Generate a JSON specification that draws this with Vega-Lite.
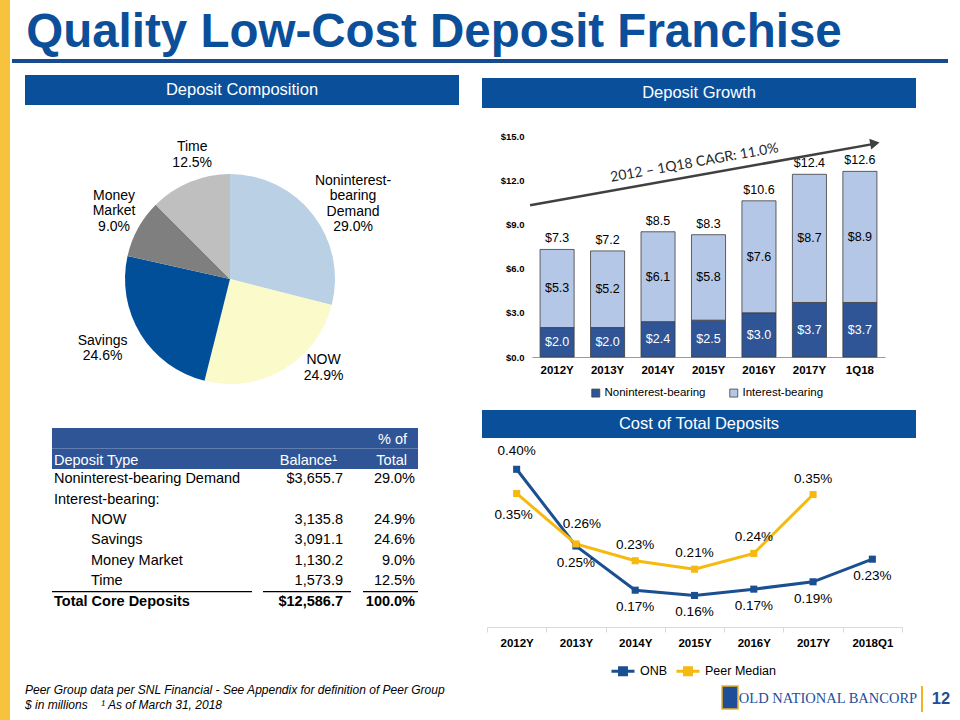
{
  "$schema": "https://vega.github.io/schema/vega-lite/v6.json",
  "padding": 0,
  "background": "white",
  "config": {"font": "Liberation Sans", "view": {"stroke": null}, "concat": {"spacing": 0}},
  "datasets": {
    "pie": [
      {"cat": "Noninterest-bearing Demand", "idx": 1, "share": 29.0, "label": "Noninterest-\nbearing\nDemand\n29.0%"},
      {"cat": "NOW", "idx": 2, "share": 24.9, "label": "NOW\n24.9%"},
      {"cat": "Savings", "idx": 3, "share": 24.6, "label": "Savings\n24.6%"},
      {"cat": "Money Market", "idx": 4, "share": 9.0, "label": "Money\nMarket\n9.0%"},
      {"cat": "Time", "idx": 5, "share": 12.5, "label": "Time\n12.5%"}
    ],
    "tableHeader": [
      {"row": "h1", "col": "Pct", "label": "% of"},
      {"row": "h2", "col": "Type", "label": "Deposit Type"},
      {"row": "h2", "col": "Balance", "label": "Balance¹"},
      {"row": "h2", "col": "Pct", "label": "Total"}
    ],
    "tableRows": [
      {"row": "r1", "type": "Noninterest-bearing Demand", "level": "top", "balance": 3655.7, "share": 0.290},
      {"row": "r2", "type": "Interest-bearing:", "level": "top", "balance": null, "share": null},
      {"row": "r3", "type": "NOW", "level": "sub", "balance": 3135.8, "share": 0.249},
      {"row": "r4", "type": "Savings", "level": "sub", "balance": 3091.1, "share": 0.246},
      {"row": "r5", "type": "Money Market", "level": "sub", "balance": 1130.2, "share": 0.090},
      {"row": "r6", "type": "Time", "level": "sub", "balance": 1573.9, "share": 0.125},
      {"row": "r7", "type": "Total Core Deposits", "level": "total", "balance": 12586.7, "share": 1.0}
    ],
    "growth": [
      {"year": "2012Y", "type": "Noninterest-bearing", "value": 2.0},
      {"year": "2012Y", "type": "Interest-bearing", "value": 5.3},
      {"year": "2013Y", "type": "Noninterest-bearing", "value": 2.0},
      {"year": "2013Y", "type": "Interest-bearing", "value": 5.2},
      {"year": "2014Y", "type": "Noninterest-bearing", "value": 2.4},
      {"year": "2014Y", "type": "Interest-bearing", "value": 6.1},
      {"year": "2015Y", "type": "Noninterest-bearing", "value": 2.5},
      {"year": "2015Y", "type": "Interest-bearing", "value": 5.8},
      {"year": "2016Y", "type": "Noninterest-bearing", "value": 3.0},
      {"year": "2016Y", "type": "Interest-bearing", "value": 7.6},
      {"year": "2017Y", "type": "Noninterest-bearing", "value": 3.7},
      {"year": "2017Y", "type": "Interest-bearing", "value": 8.7},
      {"year": "1Q18", "type": "Noninterest-bearing", "value": 3.7},
      {"year": "1Q18", "type": "Interest-bearing", "value": 8.9}
    ],
    "cost": [
      {"period": "2012Y", "series": "ONB", "rate": 0.00400},
      {"period": "2013Y", "series": "ONB", "rate": 0.00254},
      {"period": "2014Y", "series": "ONB", "rate": 0.00170},
      {"period": "2015Y", "series": "ONB", "rate": 0.00160},
      {"period": "2016Y", "series": "ONB", "rate": 0.00172},
      {"period": "2017Y", "series": "ONB", "rate": 0.00186},
      {"period": "2018Q1", "series": "ONB", "rate": 0.00229},
      {"period": "2012Y", "series": "Peer Median", "rate": 0.00354},
      {"period": "2013Y", "series": "Peer Median", "rate": 0.00258},
      {"period": "2014Y", "series": "Peer Median", "rate": 0.00226},
      {"period": "2015Y", "series": "Peer Median", "rate": 0.00210},
      {"period": "2016Y", "series": "Peer Median", "rate": 0.00240},
      {"period": "2017Y", "series": "Peer Median", "rate": 0.00352}
    ]
  },
  "bounds": "flush",
  "spacing": 2,
  "resolve": {"scale": {"color": "independent"}, "legend": {"color": "independent"}},
  "hconcat": [
    {"width": 10, "height": 720, "view": {"fill": "#F7C33C", "stroke": null}, "data": {"values": [{}]}, "mark": {"type": "text", "text": ""}},
    {
      "bounds": "flush",
      "spacing": 0,
      "resolve": {"scale": {"color": "independent"}, "legend": {"color": "independent"}},
      "vconcat": [
        {"width": 844, "height": 59, "data": {"values": [{"t": "Quality Low-Cost Deposit Franchise"}]},
         "mark": {"type": "text", "fontSize": 47.5, "fontWeight": "bold", "color": "#0B4F9A", "baseline": "alphabetic", "align": "center", "dy": 17.5},
         "encoding": {"text": {"field": "t", "type": "nominal"}}},
        {"width": 936, "height": 4, "view": {"fill": "#1A4A8E", "stroke": null}, "data": {"values": [{}]}, "mark": {"type": "text", "text": ""}},
        {"width": 1, "height": 12, "data": {"values": [{}]}, "mark": {"type": "text", "text": ""}},
        {
          "spacing": 4,
          "resolve": {"scale": {"color": "independent"}, "legend": {"color": "independent"}},
          "hconcat": [
            {"width": 9, "height": 1, "data": {"values": [{}]}, "mark": {"type": "text", "text": ""}},
            {
              "bounds": "flush",
              "spacing": 0,
              "resolve": {"scale": {"color": "independent"}, "legend": {"color": "independent"}},
              "vconcat": [
                {"width": 434, "height": 30, "view": {"fill": "#0A4F9A", "stroke": null}, "data": {"values": [{"h": "Deposit Composition"}]},
                 "mark": {"type": "text", "fontSize": 16.5, "color": "white", "baseline": "middle"},
                 "encoding": {"text": {"field": "h", "type": "nominal"}}},
                {"width": 1, "height": 25, "data": {"values": [{}]}, "mark": {"type": "text", "text": ""}},
                {
                  "width": 410, "height": 298,
                  "data": {"name": "pie"},
                  "encoding": {
                    "theta": {"field": "share", "type": "quantitative", "stack": true},
                    "order": {"field": "idx", "type": "quantitative"},
                    "detail": {"field": "cat", "type": "nominal"}
                  },
                  "layer": [
                    {"mark": {"type": "arc", "radius": 105},
                     "encoding": {"color": {"field": "cat", "type": "nominal", "legend": null,
                       "scale": {"domain": ["Noninterest-bearing Demand", "NOW", "Savings", "Money Market", "Time"], "range": ["#B9D0E5", "#FAFACA", "#004F98", "#7F7F7F", "#BFBFBF"]}}}},
                    {"mark": {"type": "text", "radius": 138, "fontSize": 14, "lineBreak": "\n", "lineHeight": 15.5, "baseline": "middle", "align": "center", "color": "black", "dx": 14, "dy": -13.75},
                     "encoding": {"text": {"condition": {"test": "datum.cat === 'Noninterest-bearing Demand'", "field": "label", "type": "nominal"}, "value": ""}}},
                    {"mark": {"type": "text", "radius": 138, "fontSize": 14, "lineBreak": "\n", "lineHeight": 15.5, "baseline": "middle", "align": "center", "color": "black", "dx": 23, "dy": -37.25},
                     "encoding": {"text": {"condition": {"test": "datum.cat === 'NOW'", "field": "label", "type": "nominal"}, "value": ""}}},
                    {"mark": {"type": "text", "radius": 138, "fontSize": 14, "lineBreak": "\n", "lineHeight": 15.5, "baseline": "middle", "align": "center", "color": "black", "dx": -10, "dy": -10.75},
                     "encoding": {"text": {"condition": {"test": "datum.cat === 'Savings'", "field": "label", "type": "nominal"}, "value": ""}}},
                    {"mark": {"type": "text", "radius": 138, "fontSize": 14, "lineBreak": "\n", "lineHeight": 15.5, "baseline": "middle", "align": "center", "color": "black", "dx": 5, "dy": -17},
                     "encoding": {"text": {"condition": {"test": "datum.cat === 'Money Market'", "field": "label", "type": "nominal"}, "value": ""}}},
                    {"mark": {"type": "text", "radius": 138, "fontSize": 14, "lineBreak": "\n", "lineHeight": 15.5, "baseline": "middle", "align": "center", "color": "black", "dx": 15, "dy": -4.25},
                     "encoding": {"text": {"condition": {"test": "datum.cat === 'Time'", "field": "label", "type": "nominal"}, "value": ""}}}
                  ]
                },
                {
                  "width": 393, "height": 184,
                  "layer": [
                    {"data": {"values": [{"row": "h1"}, {"row": "h2"}]},
                     "mark": {"type": "rect", "color": "#2F5597"},
                     "encoding": {
                       "x": {"datum": "Type", "type": "nominal", "axis": null, "scale": {"type": "point", "domain": ["Type", "Balance", "Pct"], "range": [27, 393], "padding": 0}},
                       "x2": {"datum": "Pct"},
                       "y": {"field": "row", "type": "nominal", "axis": null, "scale": {"type": "band", "domain": ["h1", "h2", "r1", "r2", "r3", "r4", "r5", "r6", "r7"], "paddingInner": 0, "paddingOuter": 0}}
                     }},
                    {"data": {"name": "tableHeader"}, "transform": [{"filter": "datum.col === 'Type'"}],
                     "mark": {"type": "text", "align": "left", "dx": 2, "dy": 2, "baseline": "middle", "fontSize": 14.5, "color": "white"},
                     "encoding": {"x": {"field": "col", "type": "nominal", "axis": null}, "y": {"field": "row", "type": "nominal", "axis": null}, "text": {"field": "label", "type": "nominal"}}},
                    {"data": {"name": "tableHeader"}, "transform": [{"filter": "datum.col === 'Balance'"}],
                     "mark": {"type": "text", "align": "right", "dx": 102, "dy": 2, "baseline": "middle", "fontSize": 14.5, "color": "white"},
                     "encoding": {"x": {"field": "col", "type": "nominal", "axis": null}, "y": {"field": "row", "type": "nominal", "axis": null}, "text": {"field": "label", "type": "nominal"}}},
                    {"data": {"name": "tableHeader"}, "transform": [{"filter": "datum.col === 'Pct'"}],
                     "mark": {"type": "text", "align": "right", "dx": -11, "dy": 2, "baseline": "middle", "fontSize": 14.5, "color": "white"},
                     "encoding": {"x": {"field": "col", "type": "nominal", "axis": null}, "y": {"field": "row", "type": "nominal", "axis": null}, "text": {"field": "label", "type": "nominal"}}},
                    {"data": {"name": "tableRows"}, "transform": [{"filter": "datum.level === 'top'"}],
                     "mark": {"type": "text", "align": "left", "dx": 2, "baseline": "middle", "fontSize": 14.5, "color": "black"},
                     "encoding": {"x": {"datum": "Type", "type": "nominal", "axis": null}, "y": {"field": "row", "type": "nominal", "axis": null}, "text": {"field": "type", "type": "nominal"}}},
                    {"data": {"name": "tableRows"}, "transform": [{"filter": "datum.level === 'sub'"}],
                     "mark": {"type": "text", "align": "left", "dx": 39, "baseline": "middle", "fontSize": 14.5, "color": "black"},
                     "encoding": {"x": {"datum": "Type", "type": "nominal", "axis": null}, "y": {"field": "row", "type": "nominal", "axis": null}, "text": {"field": "type", "type": "nominal"}}},
                    {"data": {"name": "tableRows"}, "transform": [{"filter": "datum.level === 'total'"}],
                     "mark": {"type": "text", "align": "left", "dx": 2, "baseline": "middle", "fontSize": 14.5, "fontWeight": "bold", "color": "black"},
                     "encoding": {"x": {"datum": "Type", "type": "nominal", "axis": null}, "y": {"field": "row", "type": "nominal", "axis": null}, "text": {"field": "type", "type": "nominal"}}},
                    {"data": {"name": "tableRows"}, "transform": [{"filter": "datum.row === 'r1'"}],
                     "mark": {"type": "text", "align": "right", "dx": 108, "baseline": "middle", "fontSize": 14.5, "color": "black"},
                     "encoding": {"x": {"datum": "Balance", "type": "nominal", "axis": null}, "y": {"field": "row", "type": "nominal", "axis": null}, "text": {"field": "balance", "type": "quantitative", "format": "$,.1f"}}},
                    {"data": {"name": "tableRows"}, "transform": [{"filter": "datum.level === 'sub'"}],
                     "mark": {"type": "text", "align": "right", "dx": 108, "baseline": "middle", "fontSize": 14.5, "color": "black"},
                     "encoding": {"x": {"datum": "Balance", "type": "nominal", "axis": null}, "y": {"field": "row", "type": "nominal", "axis": null}, "text": {"field": "balance", "type": "quantitative", "format": ",.1f"}}},
                    {"data": {"name": "tableRows"}, "transform": [{"filter": "datum.level === 'total'"}],
                     "mark": {"type": "text", "align": "right", "dx": 108, "baseline": "middle", "fontSize": 14.5, "fontWeight": "bold", "color": "black"},
                     "encoding": {"x": {"datum": "Balance", "type": "nominal", "axis": null}, "y": {"field": "row", "type": "nominal", "axis": null}, "text": {"field": "balance", "type": "quantitative", "format": "$,.1f"}}},
                    {"data": {"name": "tableRows"}, "transform": [{"filter": "isValid(datum.share) && datum.level !== 'total'"}],
                     "mark": {"type": "text", "align": "right", "dx": -3, "baseline": "middle", "fontSize": 14.5, "color": "black"},
                     "encoding": {"x": {"datum": "Pct", "type": "nominal", "axis": null}, "y": {"field": "row", "type": "nominal", "axis": null}, "text": {"field": "share", "type": "quantitative", "format": ".1%"}}},
                    {"data": {"name": "tableRows"}, "transform": [{"filter": "datum.level === 'total'"}],
                     "mark": {"type": "text", "align": "right", "dx": -3, "baseline": "middle", "fontSize": 14.5, "fontWeight": "bold", "color": "black"},
                     "encoding": {"x": {"datum": "Pct", "type": "nominal", "axis": null}, "y": {"field": "row", "type": "nominal", "axis": null}, "text": {"field": "share", "type": "quantitative", "format": ".1%"}}},
                    {"data": {"name": "tableRows"}, "transform": [{"filter": "datum.level === 'total'"}],
                     "mark": {"type": "rule", "color": "black", "strokeWidth": 1.2, "x2Offset": 17},
                     "encoding": {"x": {"datum": "Type", "type": "nominal", "axis": null}, "x2": {"datum": "Balance"}, "y": {"field": "row", "type": "nominal", "axis": null, "bandPosition": 0}}},
                    {"data": {"name": "tableRows"}, "transform": [{"filter": "datum.level === 'total'"}],
                     "mark": {"type": "rule", "color": "black", "strokeWidth": 1.2, "xOffset": 28, "x2Offset": 116},
                     "encoding": {"x": {"datum": "Balance", "type": "nominal", "axis": null}, "x2": {"datum": "Balance"}, "y": {"field": "row", "type": "nominal", "axis": null, "bandPosition": 0}}},
                    {"data": {"name": "tableRows"}, "transform": [{"filter": "datum.level === 'total'"}],
                     "mark": {"type": "rule", "color": "black", "strokeWidth": 1.2, "xOffset": -55},
                     "encoding": {"x": {"datum": "Pct", "type": "nominal", "axis": null}, "x2": {"datum": "Pct"}, "y": {"field": "row", "type": "nominal", "axis": null, "bandPosition": 0}}}
                  ]
                },
                {"width": 420, "height": 72, "data": {"values": [{}]}, "mark": {"type": "text", "text": ""},
                 "title": {"text": "Peer Group data per SNL Financial - See Appendix for definition of Peer Group",
                   "subtitle": "$ in millions\u00a0\u00a0\u00a0\u00a0¹ As of March 31, 2018",
                   "orient": "bottom", "anchor": "start", "offset": 1,
                   "font": "Liberation Sans", "fontSize": 12, "fontWeight": "normal", "fontStyle": "italic", "color": "black",
                   "subtitleFont": "Liberation Sans", "subtitleFontSize": 12, "subtitleFontStyle": "italic", "subtitleColor": "black", "subtitlePadding": 3}}
              ]
            },
            {"width": 15, "height": 1, "data": {"values": [{}]}, "mark": {"type": "text", "text": ""}},
            {
              "bounds": "flush",
              "spacing": 0,
              "resolve": {"scale": {"color": "independent"}, "legend": {"color": "independent"}},
              "vconcat": [
                {"width": 1, "height": 3, "data": {"values": [{}]}, "mark": {"type": "text", "text": ""}},
                {"width": 434, "height": 30, "view": {"fill": "#0A4F9A", "stroke": null}, "data": {"values": [{"h": "Deposit Growth"}]},
                 "mark": {"type": "text", "fontSize": 16.5, "color": "white", "baseline": "middle"},
                 "encoding": {"text": {"field": "h", "type": "nominal"}}},
                {"width": 1, "height": 28, "data": {"values": [{}]}, "mark": {"type": "text", "text": ""}},
                {
                  "width": 403, "height": 221,
                  "data": {"name": "growth"},
                  "layer": [
                    {"mark": {"type": "bar", "stroke": "#3C3C3C", "strokeWidth": 0.8},
                     "encoding": {
                       "x": {"field": "year", "type": "nominal", "sort": null,
                         "scale": {"type": "band", "domain": ["2012Y", "2013Y", "2014Y", "2015Y", "2016Y", "2017Y", "1Q18"], "range": [50, 403], "paddingInner": 0.325, "paddingOuter": 0.16},
                         "axis": {"title": null, "labelAngle": 0, "labelFontSize": 11.5, "labelFontWeight": "bold", "labelColor": "black", "domainColor": "#9A9A9A", "ticks": false, "labelPadding": 7, "grid": false}},
                       "y": {"field": "value", "type": "quantitative", "stack": "zero",
                         "scale": {"domain": [0, 15], "nice": false},
                         "axis": {"title": null, "values": [0, 3, 6, 9, 12, 15], "format": "$.1f", "labelFontSize": 9.5, "labelFontWeight": "bold", "labelColor": "black", "domain": false, "ticks": false, "grid": false, "offset": -50, "labelPadding": 8}},
                       "color": {"field": "type", "type": "nominal",
                         "scale": {"domain": ["Noninterest-bearing", "Interest-bearing"], "range": ["#2F5597", "#B4C7E7"]},
                         "legend": {"orient": "none", "legendX": 108, "legendY": 251, "direction": "horizontal", "title": null, "symbolType": "square", "symbolSize": 64, "symbolStrokeColor": "#404040", "symbolStrokeWidth": 0.8, "labelFontSize": 11.5, "labelColor": "black", "columnPadding": 22, "labelOffset": 3}},
                       "order": {"field": "type", "sort": "descending"}
                     }},
                    {"transform": [
                       {"stack": "value", "groupby": ["year"], "sort": [{"field": "type", "order": "descending"}], "as": ["v0", "v1"]},
                       {"fold": ["v0", "v1"], "as": ["edgeName", "edge"]},
                       {"aggregate": [{"op": "mean", "field": "edge", "as": "mid"}], "groupby": ["year", "type", "value"]}
                     ],
                     "mark": {"type": "text", "fontSize": 12.5, "baseline": "middle"},
                     "encoding": {
                       "x": {"field": "year", "type": "nominal", "sort": null},
                       "y": {"field": "mid", "type": "quantitative"},
                       "text": {"field": "value", "type": "quantitative", "format": "$.1f"},
                       "color": {"condition": {"test": "datum.type === 'Noninterest-bearing'", "value": "white"}, "value": "black"}
                     }},
                    {"transform": [{"aggregate": [{"op": "sum", "field": "value", "as": "total"}], "groupby": ["year"]}],
                     "mark": {"type": "text", "fontSize": 12.5, "baseline": "middle", "dy": -11, "color": "black"},
                     "encoding": {
                       "x": {"field": "year", "type": "nominal", "sort": null},
                       "y": {"field": "total", "type": "quantitative"},
                       "text": {"field": "total", "type": "quantitative", "format": "$.1f"}
                     }},
                    {"data": {"values": [{}]},
                     "mark": {"type": "rule", "color": "#404040", "strokeWidth": 2.5, "xOffset": -27, "x2Offset": 17},
                     "encoding": {"x": {"datum": "2012Y"}, "x2": {"datum": "1Q18"}, "y": {"datum": 10.3}, "y2": {"datum": 14.5}}},
                    {"data": {"values": [{}]},
                     "mark": {"type": "point", "shape": "triangle-right", "angle": -10, "size": 120, "filled": true, "opacity": 1, "color": "#404040", "xOffset": 15},
                     "encoding": {"x": {"datum": "1Q18"}, "y": {"datum": 14.5}}},
                    {"data": {"values": [{"label": "2012 – 1Q18 CAGR: 11.0%"}]},
                     "mark": {"type": "text", "angle": -10, "font": "Lato", "fontSize": 14, "color": "#262626", "baseline": "middle", "xOffset": -14},
                     "encoding": {"x": {"datum": "2015Y"}, "y": {"datum": 13.17}, "text": {"field": "label", "type": "nominal"}}}
                  ]
                },
                {"width": 1, "height": 53, "data": {"values": [{}]}, "mark": {"type": "text", "text": ""}},
                {"width": 434, "height": 28, "view": {"fill": "#0A4F9A", "stroke": null}, "data": {"values": [{"h": "Cost of Total Deposits"}]},
                 "mark": {"type": "text", "fontSize": 16.5, "color": "white", "baseline": "middle"},
                 "encoding": {"text": {"field": "h", "type": "nominal"}}},
                {"width": 1, "height": 5, "data": {"values": [{}]}, "mark": {"type": "text", "text": ""}},
                {
                  "width": 420, "height": 184,
                  "data": {"name": "cost"},
                  "encoding": {
                    "x": {"field": "period", "type": "nominal", "sort": null,
                      "scale": {"type": "band", "domain": ["2012Y", "2013Y", "2014Y", "2015Y", "2016Y", "2017Y", "2018Q1"], "range": [5, 420], "paddingInner": 0, "paddingOuter": 0},
                      "axis": {"title": null, "labelAngle": 0, "labelFontSize": 11.5, "labelFontWeight": "bold", "labelColor": "black", "domainColor": "#D9D9D9", "tickColor": "#D9D9D9", "tickSize": 5, "tickBand": "extent", "labelPadding": 5, "grid": false}},
                    "y": {"field": "rate", "type": "quantitative", "scale": {"domain": [0.001, 0.0045], "nice": false, "zero": false}, "axis": null}
                  },
                  "layer": [
                    {"mark": {"type": "line", "strokeWidth": 3, "point": {"shape": "square", "size": 50, "filled": true, "opacity": 1}},
                     "encoding": {"color": {"field": "series", "type": "nominal",
                       "scale": {"domain": ["ONB", "Peer Median"], "range": ["#1A4F91", "#F6B90F"]},
                       "legend": {"orient": "none", "legendX": 128, "legendY": 215, "direction": "horizontal", "title": null, "symbolType": "M-1,0H1M-0.3,-0.3H0.3V0.3H-0.3Z", "symbolSize": 529, "symbolStrokeWidth": 3, "labelFontSize": 12.5, "labelColor": "black", "columnPadding": 2, "labelOffset": 4}}}},
                    {"transform": [{"filter": "datum.series === 'ONB' && datum.period !== '2012Y'"}],
                     "mark": {"type": "text", "fontSize": 13.5, "color": "black", "baseline": "middle", "dy": 17},
                     "encoding": {"text": {"field": "rate", "type": "quantitative", "format": ".2%"}}},
                    {"transform": [{"filter": "datum.series === 'ONB' && datum.period === '2012Y'"}],
                     "mark": {"type": "text", "fontSize": 13.5, "color": "black", "baseline": "middle", "dy": -18},
                     "encoding": {"text": {"field": "rate", "type": "quantitative", "format": ".2%"}}},
                    {"transform": [{"filter": "datum.series === 'Peer Median' && datum.period !== '2012Y' && datum.period !== '2013Y'"}],
                     "mark": {"type": "text", "fontSize": 13.5, "color": "black", "baseline": "middle", "dy": -16},
                     "encoding": {"text": {"field": "rate", "type": "quantitative", "format": ".2%"}}},
                    {"transform": [{"filter": "datum.series === 'Peer Median' && datum.period === '2013Y'"}],
                     "mark": {"type": "text", "fontSize": 13.5, "color": "black", "baseline": "middle", "dy": -20, "dx": 6},
                     "encoding": {"text": {"field": "rate", "type": "quantitative", "format": ".2%"}}},
                    {"transform": [{"filter": "datum.series === 'Peer Median' && datum.period === '2012Y'"}],
                     "mark": {"type": "text", "fontSize": 13.5, "color": "black", "baseline": "middle", "dy": 22, "dx": -3},
                     "encoding": {"text": {"field": "rate", "type": "quantitative", "format": ".2%"}}}
                  ]
                },
                {"width": 1, "height": 59, "data": {"values": [{}]}, "mark": {"type": "text", "text": ""}},
                {
                  "bounds": "flush",
                  "spacing": 0,
                  "hconcat": [
                    {"width": 240, "height": 1, "data": {"values": [{}]}, "mark": {"type": "text", "text": ""}},
                    {"width": 16, "height": 23, "view": {"fill": "#1F4E99", "stroke": "#F0B323", "strokeWidth": 1.5}, "data": {"values": [{}]}, "mark": {"type": "text", "text": ""}},
                    {"width": 180, "height": 26, "data": {"values": [{"t": "OLD NATIONAL BANCORP"}]},
                     "mark": {"type": "text", "font": "Liberation Serif", "fontSize": 14.5, "color": "#1F4E99", "baseline": "middle"},
                     "encoding": {"text": {"field": "t", "type": "nominal"}}},
                    {"width": 3, "height": 1, "data": {"values": [{}]}, "mark": {"type": "text", "text": ""}},
                    {"width": 2, "height": 26, "view": {"fill": "#F0B323", "stroke": null}, "data": {"values": [{}]}, "mark": {"type": "text", "text": ""}},
                    {"width": 36, "height": 26, "data": {"values": [{"t": "12"}]},
                     "mark": {"type": "text", "fontSize": 16.5, "fontWeight": "bold", "color": "#1F4E99", "baseline": "middle"},
                     "encoding": {"text": {"field": "t", "type": "nominal"}}}
                  ]
                }
              ]
            }
          ]
        }
      ]
    }
  ]
}
